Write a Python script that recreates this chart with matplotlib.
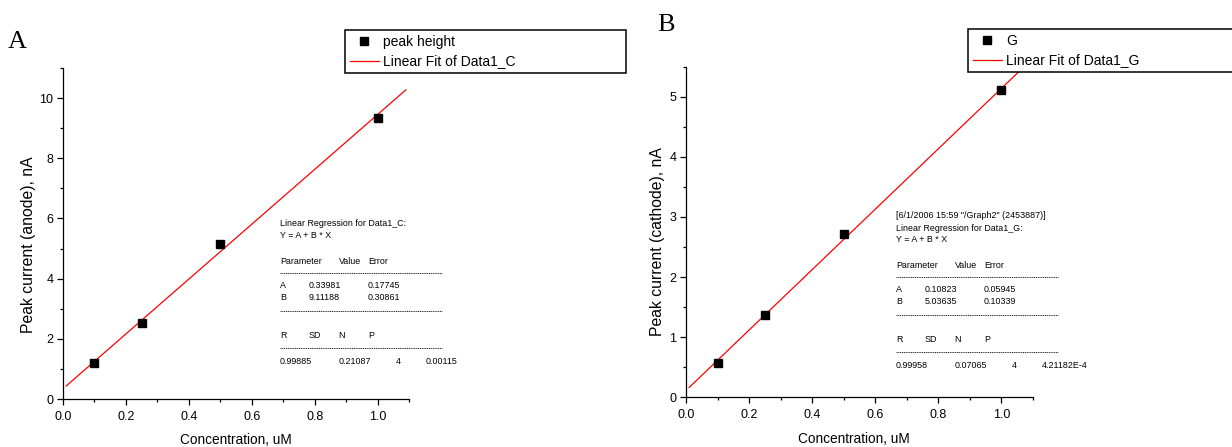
import numpy as np
import matplotlib
matplotlib.use("Agg")
import matplotlib.pyplot as plt
from matplotlib.lines import Line2D
from matplotlib.ticker import MultipleLocator

plt.rcParams['font.family'] = ['Liberation Sans', 'DejaVu Sans']

W, H = 1232, 447

# measured data (concentration in uM, peak currents in nA)
conc = [0.1, 0.25, 0.5, 1.0]
anode = [1.20, 2.52, 5.15, 9.35]
cathode = [0.57, 1.37, 2.71, 5.11]

# Origin linear fit results: (A, B), errors, and R / SD / N / P
fit_c = (0.33981, 9.11188)
fit_c_err = (0.17745, 0.30861)
stats_c = ("0.99885", "0.21087", "4", "0.00115")
fit_c_range = (0.01, 1.09)

fit_g = (0.10823, 5.03635)
fit_g_err = (0.05945, 0.10339)
stats_g = ("0.99958", "0.07065", "4", "4.21182E-4")
fit_g_range = (0.01, 1.1)
stamp_g = '[6/1/2006 15:59 "/Graph2" (2453887)]'


def fx(px):
    return px / W


def fy(py):
    return 1 - py / H


def make_axes(fig, left, top, right, bottom):
    ax = fig.add_axes([fx(left), fy(bottom), fx(right - left), (bottom - top) / H])
    for s in ['top', 'right']:
        ax.spines[s].set_visible(False)
    for s in ['left', 'bottom']:
        ax.spines[s].set_linewidth(0.9)
    ax.tick_params(which='major', direction='out', length=4, width=0.9, labelsize=9, pad=3)
    ax.tick_params(which='minor', direction='out', length=2.3, width=0.9)
    ax.tick_params(axis='x', pad=5)
    return ax


def draw_panel(ax, y, fit, frange, label, fitlabel):
    ax.plot(conc, y, 's', color='black', markersize=5.5, label=label, zorder=3)
    xs = np.array(frange)
    ax.plot(xs, fit[0] + fit[1] * xs, color='red', lw=0.9, label=fitlabel)


def rule(fig, x0, y):
    fig.add_artist(Line2D([fx(x0), fx(x0 + 162)], [fy(y), fy(y)], transform=fig.transFigure,
                          color='black', lw=0.6, linestyle=(0, (1.3, 0.9))))


def regression_block(fig, x0, y0, name, fit, err, stats, stamp=None):
    fs = 6.4
    kw = dict(fontsize=fs, va='center', ha='left')
    if stamp:
        fig.text(fx(x0), fy(y0 - 12), stamp, **kw)
    fig.text(fx(x0), fy(y0), "Linear Regression for %s:" % name, **kw)
    fig.text(fx(x0), fy(y0 + 12), "Y = A + B * X", **kw)
    fig.text(fx(x0), fy(y0 + 37), "Parameter", **kw)
    fig.text(fx(x0 + 59), fy(y0 + 37), "Value", **kw)
    fig.text(fx(x0 + 88), fy(y0 + 37), "Error", **kw)
    rule(fig, x0, y0 + 49)
    for i, p in enumerate(['A', 'B']):
        yy = y0 + 62 + 12 * i
        fig.text(fx(x0), fy(yy), p, **kw)
        fig.text(fx(x0 + 29), fy(yy), "%.5f" % fit[i], **kw)
        fig.text(fx(x0 + 88), fy(yy), "%.5f" % err[i], **kw)
    rule(fig, x0, y0 + 87)
    for dx, h in zip([0, 29, 58, 88], ['R', 'SD', 'N', 'P']):
        fig.text(fx(x0 + dx), fy(y0 + 112), h, **kw)
    rule(fig, x0, y0 + 124)
    fig.text(fx(x0), fy(y0 + 137), stats[0], **kw)
    fig.text(fx(x0 + 59), fy(y0 + 137), stats[1], **kw)
    fig.text(fx(x0 + 121), fy(y0 + 137), stats[2], fontsize=fs, va='center', ha='right')
    fig.text(fx(x0 + 146), fy(y0 + 137), stats[3], **kw)


def legend(ax, fig, left, top, right, bottom):
    leg = ax.legend(loc='upper left', mode='expand',
                    bbox_to_anchor=(fx(left), fy(bottom), fx(right - left), (bottom - top) / H),
                    bbox_transform=fig.transFigure, borderaxespad=0, borderpad=0.35,
                    fontsize=10, handlelength=2.1, handletextpad=0.3, labelspacing=0.4,
                    fancybox=False, framealpha=1, edgecolor='black')
    leg.get_frame().set_linewidth(1.1)
    return leg


fig = plt.figure(figsize=(W / 100, H / 100), dpi=100)

# panel A: anode
axA = make_axes(fig, 63, 68, 409, 399)
draw_panel(axA, anode, fit_c, fit_c_range, 'peak height', 'Linear Fit of Data1_C')
axA.set_xlim(0, 1.1)
axA.set_ylim(0, 11)
axA.xaxis.set_major_locator(MultipleLocator(0.2))
axA.xaxis.set_minor_locator(MultipleLocator(0.1))
axA.yaxis.set_major_locator(MultipleLocator(2))
axA.yaxis.set_minor_locator(MultipleLocator(1))
axA.set_xlabel('Concentration, uM', fontsize=9.8)
axA.set_ylabel('Peak current (anode), nA', fontsize=11.3)
axA.xaxis.set_label_coords(0.5, -0.124)
axA.xaxis.label.set_va('center')
axA.yaxis.set_label_coords(-0.101, 0.467)
axA.yaxis.label.set_va('center')
legend(axA, fig, 345, 30, 626, 71)
regression_block(fig, 280, 224, 'Data1_C', fit_c, fit_c_err, stats_c)
fig.text(fx(17.5), fy(42), 'A', fontsize=19, family='Liberation Serif', ha='center', va='center')

# panel B: cathode
axB = make_axes(fig, 686, 67, 1033, 397)
draw_panel(axB, cathode, fit_g, fit_g_range, 'G', 'Linear Fit of Data1_G')
axB.set_xlim(0, 1.1)
axB.set_ylim(0, 5.5)
axB.xaxis.set_major_locator(MultipleLocator(0.2))
axB.xaxis.set_minor_locator(MultipleLocator(0.1))
axB.yaxis.set_major_locator(MultipleLocator(1))
axB.yaxis.set_minor_locator(MultipleLocator(0.5))
axB.set_xlabel('Concentration, uM', fontsize=9.8)
axB.set_ylabel('Peak current (cathode), nA', fontsize=11.3)
axB.xaxis.set_label_coords(0.484, -0.127)
axB.xaxis.label.set_va('center')
axB.yaxis.set_label_coords(-0.082, 0.471)
axB.yaxis.label.set_va('center')
legend(axB, fig, 968, 29, 1240, 70)
regression_block(fig, 896, 228, 'Data1_G', fit_g, fit_g_err, stats_g, stamp=stamp_g)
fig.text(fx(665.5), fy(25), 'B', fontsize=19, family='Liberation Serif', ha='center', va='center')

fig.savefig('out.png', dpi=100)
